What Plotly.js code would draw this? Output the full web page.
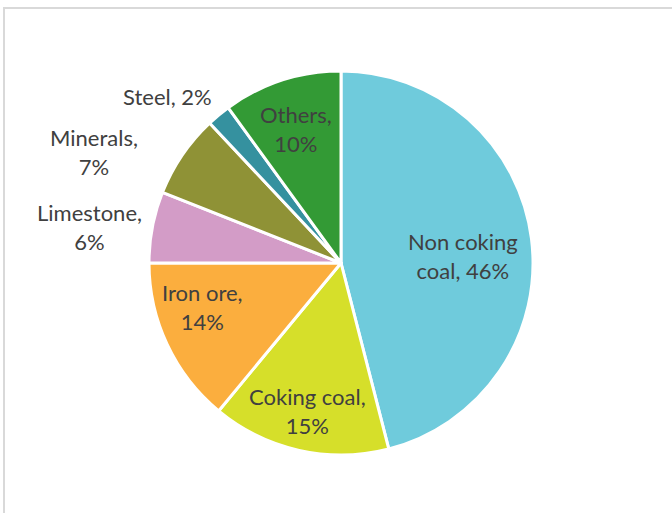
<!DOCTYPE html>
<html>
<head>
<meta charset="utf-8">
<script src="https://cdn.plot.ly/plotly-3.0.1.min.js"></script>
<style>
  html, body { margin: 0; padding: 0; background: #fff; overflow: hidden; }
  #frame { position: absolute; left: 3px; top: 7px; width: 720px; height: 560px; border: 2px solid #d9d9d9; box-sizing: border-box; }
  #chart { position: absolute; left: 0; top: 0; width: 672px; height: 513px; }
</style>
</head>
<body>
<div id="frame"></div>
<div id="chart"></div>
<script>
// Data
const labels = ["Non coking coal", "Coking coal", "Iron ore", "Limestone", "Minerals", "Steel", "Others"];
const values = [46, 15, 14, 6, 7, 2, 10];

// Styling / layout helpers
const colors = ["#6fcbdc", "#d6df2a", "#fbae3e", "#d39cc7", "#8f9236", "#35919f", "#339a35"];
const breakAfterWord = [2, 2, 2, 1, 1, 0, 1];
// label centre positions in pixels (x, y)
const labelPosX = [463, 307, 202, 89, 94, 167, 296];
const labelPosY = [256, 411, 307, 227, 152, 96, 129];

const W = 672, H = 513;
const cx = 341, cy = 263, r = 192;

const annotations = labels.map((l, i) => {
  const words = (l + ", " + values[i] + "%").split(" ");
  const n = breakAfterWord[i];
  const text = n > 0 ? words.slice(0, n).join(" ") + "<br>" + words.slice(n).join(" ") : words.join(" ");
  return {
    text: text,
    x: labelPosX[i] / W, y: (H - labelPosY[i]) / H,
    xref: "paper", yref: "paper",
    xanchor: "center", yanchor: "middle",
    showarrow: false,
    font: { family: "Lato, 'Open Sans', sans-serif", size: 22, color: "#404040" }
  };
});

const trace = {
  type: "pie",
  labels: labels,
  values: values,
  sort: false,
  direction: "clockwise",
  rotation: 0,
  textinfo: "none",
  hoverinfo: "label+percent",
  marker: { colors: colors, line: { color: "#ffffff", width: 3 } },
  domain: { x: [(cx - r) / W, (cx + r) / W], y: [(H - cy - r) / H, (H - cy + r) / H] },
  showlegend: false
};

const layout = {
  width: W, height: H,
  margin: { l: 0, r: 0, t: 0, b: 0 },
  paper_bgcolor: "rgba(0,0,0,0)",
  plot_bgcolor: "rgba(0,0,0,0)",
  showlegend: false,
  annotations: annotations
};

Plotly.newPlot("chart", [trace], layout, { displayModeBar: false, staticPlot: true });
</script>
</body>
</html>
